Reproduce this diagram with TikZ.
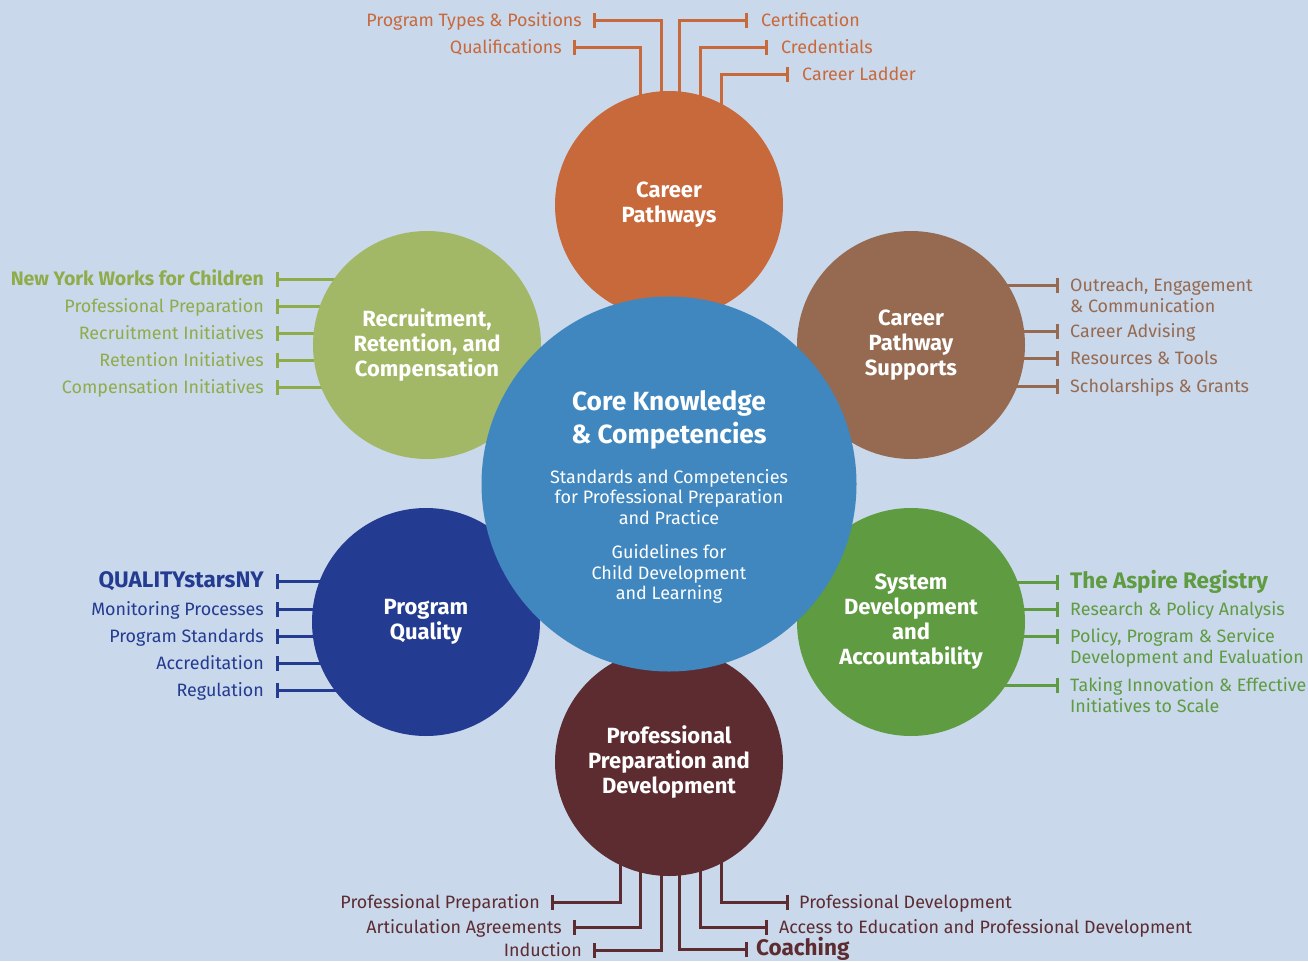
\documentclass[tikz,border=0pt]{standalone}
\usepackage{fontspec}
\setmainfont{Fira Sans}
\usetikzlibrary{arrows.meta}

\definecolor{bgblue}{HTML}{C9D8EB}
\definecolor{cporange}{HTML}{C8693B}
\definecolor{cpsbrown}{HTML}{956A51}
\definecolor{sysgreen}{HTML}{5F9B41}
\definecolor{ppdmaroon}{HTML}{5D2C31}
\definecolor{pqnavy}{HTML}{233B91}
\definecolor{rrgreen}{HTML}{A3B866}
\definecolor{rrtext}{HTML}{8FAC4A}
\definecolor{coreblue}{HTML}{3F87BE}

\pgfdeclarelayer{back}
\pgfdeclarelayer{wires}
\pgfsetlayers{back,wires,main}

\newcommand{\twolines}[2]{\vtop{\hbox{#1}\hbox{#2}}}
\newcommand{\bigitem}{\fontsize{22.5}{26}\selectfont\bfseries}

\begin{document}
\begin{tikzpicture}[x=1pt,y=-1pt,
  hub/.style={circle,minimum size=228pt,inner sep=0pt,text=white,align=center,
    font=\fontsize{22}{25}\selectfont\bfseries},
  item/.style={inner sep=0pt,font=\fontsize{17.9}{21}\selectfont},
  coretitle/.style={text=white,align=center,inner sep=0pt,
    font=\fontsize{26.3}{33}\selectfont\bfseries},
  coresub/.style={text=white,align=center,inner sep=0pt,
    font=\fontsize{18}{20.5}\selectfont},
  wire/.style={line width=3pt,-{Bar[width=15pt]}}]
\begin{pgfonlayer}{back}
\fill[bgblue] (0,0) rectangle (1308,961);
\end{pgfonlayer}
\useasboundingbox (0,0) rectangle (1308,961);

% six areas round the core
\node[hub,fill=cporange] (cp) at (669,205) {Career\\Pathways};
\node[hub,fill=cpsbrown] (cps) at (911,345) {Career\\Pathway\\Supports};
\node[hub,fill=sysgreen] (sda) at (911,622) {System\\Development\\and\\Accountability};
\node[hub,fill=ppdmaroon] (ppd) at (669,762) {Professional\\Preparation and\\Development};
\node[hub,fill=pqnavy] (pq) at (426,622) {Program\\Quality};
\node[hub,fill=rrgreen] (rrc) at (427,345) {Recruitment,\\Retention, and\\Compensation};

% core
\node[circle,minimum size=375pt,inner sep=0pt,fill=coreblue] (core) at (669,484) {};
\node[coretitle] (ckc) at (669,420) {Core Knowledge\\\& Competencies};
\node[coresub] (spp) at (669,497) {Standards and Competencies\\for Professional Preparation\\and Practice};
\node[coresub] (gcd) at (669,574) {Guidelines for\\Child Development\\and Learning};

% career pathways (top)
\node[item,text=cporange,anchor=base east] (ptp) at (582,26) {Program Types \& Positions};
\node[item,text=cporange,anchor=base east] (qual) at (562,53) {Qualifications};
\node[item,text=cporange,anchor=base west] (cert) at (761,26) {Certification};
\node[item,text=cporange,anchor=base west] (cred) at (781,53) {Credentials};
\node[item,text=cporange,anchor=base west] (ladd) at (802,80) {Career Ladder};
\begin{pgfonlayer}{wires}
\draw[wire,cporange] (cp.center) ++(-29,0) |- ([xshift=11pt,yshift=6pt]qual.base east);
\draw[wire,cporange] (cp.center) ++(-8,0) |- ([xshift=11pt,yshift=6pt]ptp.base east);
\draw[wire,cporange] (cp.center) ++(10,0) |- ([xshift=-13pt,yshift=6pt]cert.base west);
\draw[wire,cporange] (cp.center) ++(31,0) |- ([xshift=-13pt,yshift=6pt]cred.base west);
\draw[wire,cporange] (cp.center) ++(52,0) |- ([xshift=-13pt,yshift=6pt]ladd.base west);
\end{pgfonlayer}

% professional preparation (bottom)
\node[item,text=ppdmaroon,anchor=base east] (ppr) at (540,908) {Professional Preparation};
\node[item,text=ppdmaroon,anchor=base east] (art) at (562,933) {Articulation Agreements};
\node[item,text=ppdmaroon,anchor=base east] (ind) at (582,956) {Induction};
\node[item,text=ppdmaroon,anchor=base west] (pdv) at (799,908) {Professional Development};
\node[item,text=ppdmaroon,anchor=base west] (acc) at (779,933) {Access to Education and Professional Development};
\node[item,text=ppdmaroon,anchor=base west] (coa) at (756,955) {\bigitem Coaching};
\begin{pgfonlayer}{wires}
\draw[wire,ppdmaroon] (ppd.center) ++(-49,0) |- ([xshift=11pt,yshift=6pt]ppr.base east);
\draw[wire,ppdmaroon] (ppd.center) ++(-29,0) |- ([xshift=11pt,yshift=6pt]art.base east);
\draw[wire,ppdmaroon] (ppd.center) ++(-8,0) |- ([xshift=11pt,yshift=6pt]ind.base east);
\draw[wire,ppdmaroon] (ppd.center) ++(10,0) |- ([xshift=-8pt,yshift=6pt]coa.base west);
\draw[wire,ppdmaroon] (ppd.center) ++(31,0) |- ([xshift=-11pt,yshift=6pt]acc.base west);
\draw[wire,ppdmaroon] (ppd.center) ++(52,0) |- ([xshift=-10pt,yshift=6pt]pdv.base west);
\end{pgfonlayer}

% recruitment (left)
\foreach \nm/\y/\t in {nyw/279/{\fontsize{19.5}{21}\selectfont\bfseries New York Works for Children},
  prp/306/Professional Preparation, rci/333/Recruitment Initiatives,
  rti/360/Retention Initiatives, cmi/387/Compensation Initiatives}{
  \node[item,text=rrtext,anchor=base east] (\nm) at (264,\y+6) {\t};
  \coordinate (\nm-b) at ([xshift=12pt,yshift=6pt]\nm.base east);
  \begin{pgfonlayer}{wires}
    \draw[wire,rrtext] (rrc.center |- \nm-b) -- (\nm-b);
  \end{pgfonlayer}
}

% program quality (left)
\foreach \nm/\y/\t in {qsn/581/{\bigitem QUALITYstarsNY},
  mop/609/Monitoring Processes, prs/636/Program Standards,
  acr/663/Accreditation, reg/690/Regulation}{
  \node[item,text=pqnavy,anchor=base east] (\nm) at (264,\y+6) {\t};
  \coordinate (\nm-b) at ([xshift=12pt,yshift=6pt]\nm.base east);
  \begin{pgfonlayer}{wires}
    \draw[wire,pqnavy] (pq.center |- \nm-b) -- (\nm-b);
  \end{pgfonlayer}
}

% career pathway supports (right)
\foreach \nm/\y/\t in {oec/285/{\twolines{Outreach, Engagement}{\& Communication}},
  cad/331/Career Advising, rto/358/Resources \& Tools,
  scg/386/Scholarships \& Grants}{
  \node[item,text=cpsbrown,anchor=base west] (\nm) at (1070,\y+6) {\t};
  \coordinate (\nm-b) at ([xshift=-11pt,yshift=6pt]\nm.base west);
  \begin{pgfonlayer}{wires}
    \draw[wire,cpsbrown] (cps.center |- \nm-b) -- (\nm-b);
  \end{pgfonlayer}
}

% system development (right)
\foreach \nm/\y/\t in {asp/582/{\bigitem The Aspire Registry},
  rpa/609/Research \& Policy Analysis,
  pps/636/{\twolines{Policy, Program \& Service}{Development and Evaluation}},
  tie/685/{\twolines{Taking Innovation \& Effective}{Initiatives to Scale}}}{
  \node[item,text=sysgreen,anchor=base west] (\nm) at (1070,\y+6) {\t};
  \coordinate (\nm-b) at ([xshift=-11pt,yshift=6pt]\nm.base west);
  \begin{pgfonlayer}{wires}
    \draw[wire,sysgreen] (sda.center |- \nm-b) -- (\nm-b);
  \end{pgfonlayer}
}
\end{tikzpicture}
\end{document}
